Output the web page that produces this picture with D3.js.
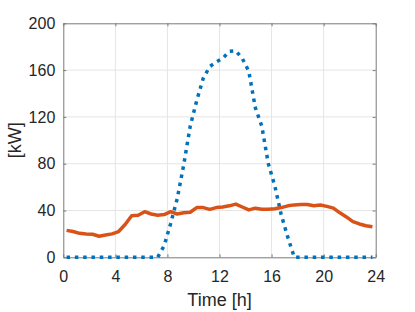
<!DOCTYPE html>
<html>
<head>
<meta charset="utf-8">
<script src="https://cdn.jsdelivr.net/npm/d3@7"></script>
<style>
  body { margin: 0; background: #fff; }
  text { font-family: "Liberation Sans", Arial, sans-serif; fill: #262626; }
</style>
</head>
<body>
<div id="chart"></div>
<script>
// half-hourly samples (hours)
let hours = d3.range(0.25, 24, 0.5)

let demand = [23, 22, 20.5, 20, 19.7, 18, 19, 20, 22, 28, 35.5, 36,
  39, 37, 36, 36.5, 39, 37, 38, 38.5, 42.5, 42.5, 41, 42.5,
  43, 44, 45.5, 43, 40.5, 42, 41, 41, 41.5, 42.5, 44, 44.8,
  45.2, 45.2, 44, 44.7, 43.5, 42, 38, 34.5, 30.5, 28.5, 27, 26.2]

let pv = [0, 0, 0, 0, 0, 0, 0, 0, 0, 0, 0, 0,
  0, 0, 0, 10, 29, 50, 79, 112, 134, 153, 163, 167,
  170, 176, 176.5, 170, 159, 128, 112, 80, 61, 36, 17, 0,
  0, 0, 0, 0, 0, 0, 0, 0, 0, 0, 0, 0]

let xTicks = [0, 4, 8, 12, 16, 20, 24]
let yTicks = [0, 40, 80, 120, 160, 200]

let W = 415, H = 312
let margin = {top: 23.3, right: 39.3, bottom: 54.7, left: 63.3}

let svg = d3.select('#chart').append('svg')
  .attr('width', W)
  .attr('height', H)

let x = d3.scaleLinear().domain([0, 24]).range([margin.left, W - margin.right])
let y = d3.scaleLinear().domain([0, 200]).range([H - margin.bottom, margin.top])

// grid
let grid = svg.append('g')
grid.selectAll('line.gx').data(xTicks.slice(1, -1)).enter().append('line')
  .attr('x1', d => x(d)).attr('x2', d => x(d))
  .attr('y1', y(0)).attr('y2', y(200))
  .attr('stroke', '#e5e5e5').attr('stroke-width', 1)
grid.selectAll('line.gy').data(yTicks.slice(1, -1)).enter().append('line')
  .attr('y1', d => y(d)).attr('y2', d => y(d))
  .attr('x1', x(0)).attr('x2', x(24))
  .attr('stroke', '#e5e5e5').attr('stroke-width', 1)

// axes (ticks pointing inward, MATLAB style)
let axisColor = '#7a7a7a'
function styleAxis(g) {
  g.select('.domain').attr('stroke', axisColor)
  g.selectAll('.tick line').attr('stroke', axisColor)
  g.selectAll('.tick text').attr('fill', '#262626').style('font-size', '16px')
    .style('font-family', '"Liberation Sans", Arial, sans-serif')
}

svg.append('g')
  .attr('transform', `translate(0, ${y(0)})`)
  .call(d3.axisBottom(x).tickValues(xTicks).tickSizeInner(-3).tickSizeOuter(0).tickPadding(13))
  .call(styleAxis)

svg.append('g')
  .attr('transform', `translate(${x(0)}, 0)`)
  .call(d3.axisLeft(y).tickValues(yTicks).tickSizeInner(-3).tickSizeOuter(0).tickPadding(8))
  .call(styleAxis)

svg.append('g')
  .attr('transform', `translate(0, ${y(200)})`)
  .call(d3.axisTop(x).tickValues(xTicks).tickSizeInner(-3).tickSizeOuter(0).tickFormat(''))
  .call(styleAxis)

svg.append('g')
  .attr('transform', `translate(${x(24)}, 0)`)
  .call(d3.axisRight(y).tickValues(yTicks).tickSizeInner(-3).tickSizeOuter(0).tickFormat(''))
  .call(styleAxis)

// lines
let line = d3.line().x((d, i) => x(hours[i])).y(d => y(d))

svg.append('path')
  .datum(pv)
  .attr('d', line)
  .attr('fill', 'none')
  .attr('stroke', '#0072BD')
  .attr('stroke-width', 3.5)
  .attr('stroke-dasharray', '3.5,4.8')

svg.append('path')
  .datum(demand)
  .attr('d', line)
  .attr('fill', 'none')
  .attr('stroke', '#D95319')
  .attr('stroke-width', 3.5)
  .attr('stroke-linejoin', 'round')

// labels
svg.append('text')
  .attr('x', (x(0) + x(24)) / 2)
  .attr('y', 306)
  .attr('text-anchor', 'middle')
  .style('font-size', '18px')
  .text('Time [h]')

svg.append('text')
  .attr('transform', `translate(21, ${(y(0) + y(200)) / 2}) rotate(-90)`)
  .attr('text-anchor', 'middle')
  .style('font-size', '18px')
  .text('[kW]')
</script>
</body>
</html>
